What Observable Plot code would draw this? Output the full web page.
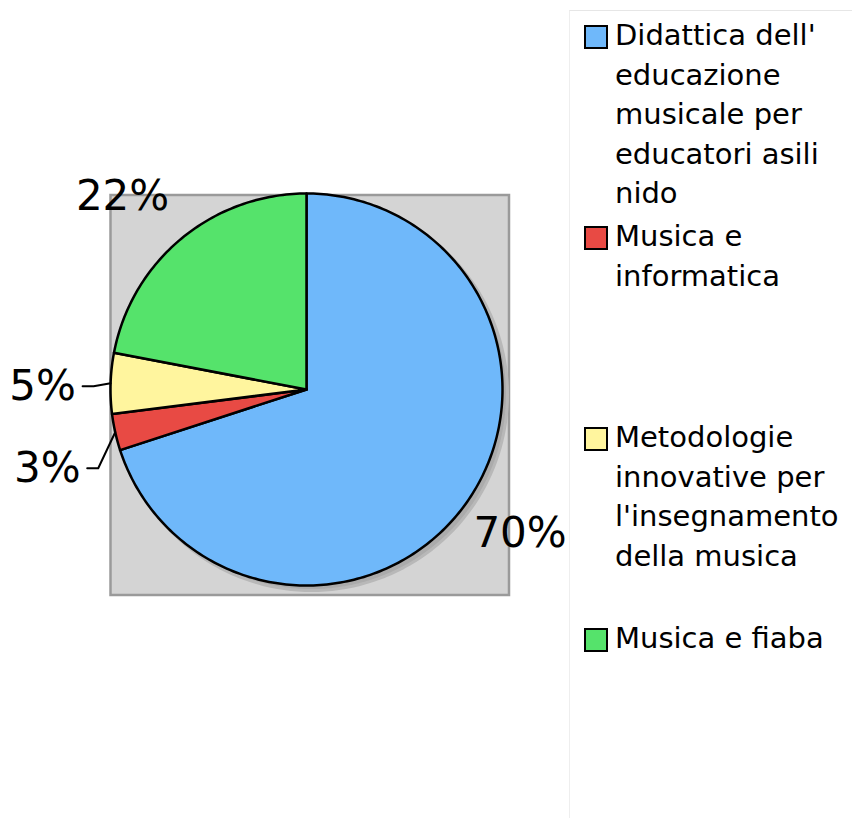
<!DOCTYPE html>
<html>
<head>
<meta charset="utf-8">
<script src="https://cdn.jsdelivr.net/npm/d3@7"></script>
<script src="https://cdn.jsdelivr.net/npm/@observablehq/plot@0.6"></script>
<style>
  html, body { margin: 0; padding: 0; background: #fff; }
  #wrap { position: relative; width: 852px; height: 818px; overflow: hidden; font-family: "DejaVu Sans", sans-serif; }
  #chart { position: absolute; left: 0; top: 0; }
  #legend { position: absolute; left: 569px; top: 10px; width: 283px; height: 808px;
            border-top: 1px solid #e6e6e6; border-left: 1px solid #eeeeee; box-sizing: border-box; }
  .item { position: absolute; left: 14px; }
  .sw { position: absolute; left: 0; top: 2px; width: 20px; height: 20px; border: 2.5px solid #000; }
  .lab { position: absolute; left: 31px; top: -7px; white-space: pre; font-size: 29px; line-height: 39.5px; color: #000; }
</style>
</head>
<body>
<div id="wrap">
  <div id="chart"></div>
  <div id="legend"></div>
</div>
<script>
// ---- data ----
const categories = [
  "Didattica dell'educazione musicale per educatori asili nido",
  "Musica e informatica",
  "Metodologie innovative per l'insegnamento della musica",
  "Musica e fiaba"
];
const values = [70, 3, 5, 22];
const percentLabels = ["70%", "3%", "5%", "22%"];
const legendLabels = [
  "Didattica dell'\neducazione\nmusicale per\neducatori asili\nnido",
  "Musica e\ninformatica",
  "Metodologie\ninnovative per\nl'insegnamento\ndella musica",
  "Musica e fiaba"
];
const colors = ["#6fb8fa", "#e84a44", "#fff59e", "#55e36b"];

// ---- layout (pixels) ----
const CX = 306, CY = 389, R = 196;
const ux = px => (px - CX) / R;
const uy = py => (CY - py) / R;
const labelOffsets = [[55, 29], [-68, 36], [-68, 3], [-59, -42]];
const hasLeader = [false, true, true, false];

// ---- geometry derived from data ----
const total = d3.sum(values);
const slices = [];
let cum = 0;
values.forEach((v, i) => {
  const a0 = cum / total * 2 * Math.PI;
  cum += v;
  const a1 = cum / total * 2 * Math.PI;
  slices.push({cat: categories[i], a0, a1, mid: (a0 + a1) / 2, label: percentLabels[i], i});
});

const slicePts = [];
for (const s of slices) {
  const n = Math.max(2, Math.ceil((s.a1 - s.a0) * 180 / Math.PI));
  slicePts.push({cat: s.cat, x: 0, y: 0});
  for (let k = 0; k <= n; k++) {
    const a = s.a0 + (s.a1 - s.a0) * k / n;
    slicePts.push({cat: s.cat, x: Math.sin(a), y: Math.cos(a)});
  }
  slicePts.push({cat: s.cat, x: 0, y: 0});
}
const shadowPts = d3.range(0, 361, 2).map(d => ({x: Math.sin(d * Math.PI / 180), y: Math.cos(d * Math.PI / 180)}));

const labelData = slices.map(s => {
  const ax = CX + R * Math.sin(s.mid), ay = CY - R * Math.cos(s.mid);
  const [dx, dy] = labelOffsets[s.i];
  return {label: s.label, ax, ay, lx: ax + dx, ly: ay + dy, i: s.i};
});

const leaderPts = [];
for (const l of labelData) {
  if (!hasLeader[l.i]) continue;
  leaderPts.push({k: l.i, x: ux(l.lx + 40), y: uy(l.ly)});
  leaderPts.push({k: l.i, x: ux(l.lx + 51), y: uy(l.ly)});
  leaderPts.push({k: l.i, x: ux(l.ax), y: uy(l.ay)});
}

const plot = Plot.plot({
  width: 570,
  height: 818,
  margin: 0,
  x: {domain: [-1, 1], range: [CX - R, CX + R], axis: null},
  y: {domain: [-1, 1], range: [CY + R, CY - R], axis: null},
  color: {domain: categories, range: colors},
  style: {fontFamily: "DejaVu Sans", background: "white", overflow: "visible"},
  marks: [
    Plot.rect([0], {x1: ux(110.5), x2: ux(509), y1: uy(595), y2: uy(195), fill: "#d4d4d4", stroke: "#9a9a9a", strokeWidth: 2.5}),
    Plot.line(shadowPts, {x: "x", y: "y", fill: "#ababab", stroke: "#b8b8b8", strokeWidth: 3, dx: 5, dy: 5}),
    Plot.line(slicePts, {x: "x", y: "y", z: "cat", fill: "cat", stroke: "#000", strokeWidth: 2.5, strokeLinejoin: "round"}),
    Plot.line(leaderPts, {x: "x", y: "y", z: "k", stroke: "#000", strokeWidth: 2}),
    Plot.text(labelData, {x: d => ux(d.lx), y: d => uy(d.ly), text: "label", fontSize: 42, fill: "#000", textAnchor: "middle"})
  ]
});
document.getElementById("chart").appendChild(plot);

// ---- legend ----
const legend = document.getElementById("legend");
legendLabels.forEach((t, i) => {
  const it = document.createElement("div");
  it.className = "item";
  it.style.top = (12 + 201 * i) + "px";
  const sw = document.createElement("div");
  sw.className = "sw";
  sw.style.background = colors[i];
  const lab = document.createElement("div");
  lab.className = "lab";
  lab.textContent = t;
  it.appendChild(sw);
  it.appendChild(lab);
  legend.appendChild(it);
});
</script>
</body>
</html>
